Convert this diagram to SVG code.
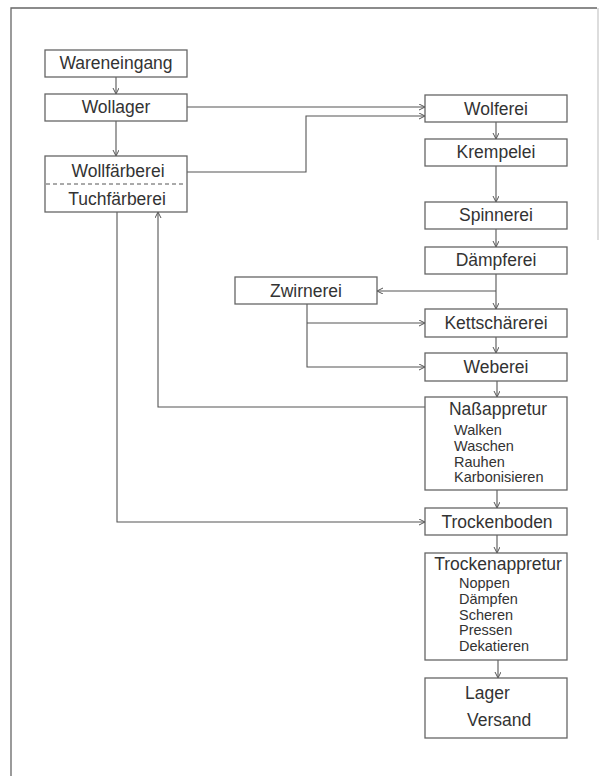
<svg xmlns="http://www.w3.org/2000/svg" width="601" height="776" viewBox="0 0 601 776">
<defs>
<marker id="ah" markerWidth="8" markerHeight="8" refX="6" refY="3" orient="auto" markerUnits="userSpaceOnUse">
<path d="M0,0 L6,3 L0,6" fill="none" stroke="#555" stroke-width="1"/>
</marker>
<style>
.box{fill:#fff;stroke:#666;stroke-width:1.3}
.t{font-family:"Liberation Sans",Arial,sans-serif;font-size:17.5px;fill:#333;text-anchor:middle}
.s{font-family:"Liberation Sans",Arial,sans-serif;font-size:14.5px;fill:#333}
.c{fill:none;stroke:#555;stroke-width:1.1}
.frame{fill:none;stroke:#666;stroke-width:1.3}
</style>
</defs>
<rect width="601" height="776" fill="#fff"/>
<g id="frame">
<path class="frame" d="M11,776 V8 H597"/>
<path d="M598,8 V240" stroke="#bbb" stroke-width="1" fill="none"/>
</g>
<g id="connectors">
<path class="c" d="M116,77 V94" marker-end="url(#ah)"/>
<path class="c" d="M116,121 V156" marker-end="url(#ah)"/>
<path class="c" d="M187,107 H425" marker-end="url(#ah)"/>
<path class="c" d="M187,172 H306 V116 H425" marker-end="url(#ah)"/>
<path class="c" d="M496,122 V139" marker-end="url(#ah)"/>
<path class="c" d="M496,166 V202" marker-end="url(#ah)"/>
<path class="c" d="M496,229 V247" marker-end="url(#ah)"/>
<path class="c" d="M496,274 V309" marker-end="url(#ah)"/>
<path class="c" d="M496,291 H377" marker-end="url(#ah)"/>
<path class="c" d="M307,304 V367 H425" marker-end="url(#ah)"/>
<path class="c" d="M307,323 H425" marker-end="url(#ah)"/>
<path class="c" d="M496,337 V353" marker-end="url(#ah)"/>
<path class="c" d="M497,381 V397" marker-end="url(#ah)"/>
<path class="c" d="M425,407 H158 V212" marker-end="url(#ah)"/>
<path class="c" d="M117,212 V522 H425" marker-end="url(#ah)"/>
<path class="c" d="M497,490 V508" marker-end="url(#ah)"/>
<path class="c" d="M497,535 V553" marker-end="url(#ah)"/>
<path class="c" d="M498,660 V678" marker-end="url(#ah)"/>
</g>
<g id="wareneingang"><rect class="box" x="45" y="50" width="142" height="27"/><text class="t" x="116" y="69">Wareneingang</text></g>
<g id="wollager"><rect class="box" x="45" y="94" width="142" height="27"/><text class="t" x="116" y="113">Wollager</text></g>
<g id="faerberei"><rect class="box" x="45" y="156" width="142" height="56"/>
<path d="M46,184 H186" stroke="#555" stroke-width="1" stroke-dasharray="4,3"/>
<text class="t" x="118" y="177">Wollfärberei</text><text class="t" x="117" y="205">Tuchfärberei</text></g>
<g id="wolferei"><rect class="box" x="425" y="95" width="142" height="27"/><text class="t" x="496" y="115">Wolferei</text></g>
<g id="krempelei"><rect class="box" x="425" y="139" width="142" height="27"/><text class="t" x="496" y="158">Krempelei</text></g>
<g id="spinnerei"><rect class="box" x="425" y="202" width="142" height="27"/><text class="t" x="496" y="221">Spinnerei</text></g>
<g id="daempferei"><rect class="box" x="425" y="247" width="142" height="27"/><text class="t" x="496" y="266">Dämpferei</text></g>
<g id="zwirnerei"><rect class="box" x="235" y="277" width="142" height="27"/><text class="t" x="306" y="297">Zwirnerei</text></g>
<g id="kettschaererei"><rect class="box" x="425" y="309" width="142" height="28"/><text class="t" x="496" y="329">Kettschärerei</text></g>
<g id="weberei"><rect class="box" x="425" y="353" width="142" height="28"/><text class="t" x="496" y="373">Weberei</text></g>
<g id="nassappretur"><rect class="box" x="425" y="397" width="142" height="93"/>
<text class="t" x="498" y="415">Naßappretur</text>
<text class="s" x="454" y="435">Walken</text><text class="s" x="454" y="451">Waschen</text><text class="s" x="454" y="467">Rauhen</text><text class="s" x="454" y="482">Karbonisieren</text></g>
<g id="trockenboden"><rect class="box" x="425" y="508" width="142" height="27"/><text class="t" x="497" y="528">Trockenboden</text></g>
<g id="trockenappretur"><rect class="box" x="425" y="553" width="142" height="107"/>
<text class="t" x="498" y="570">Trockenappretur</text>
<text class="s" x="459" y="588">Noppen</text><text class="s" x="459" y="604">Dämpfen</text><text class="s" x="459" y="620">Scheren</text><text class="s" x="459" y="635">Pressen</text><text class="s" x="459" y="651">Dekatieren</text></g>
<g id="lager"><rect class="box" x="425" y="678" width="142" height="60"/>
<text class="t" x="465" y="699" style="text-anchor:start">Lager</text><text class="t" x="467" y="726" style="text-anchor:start">Versand</text></g>
</svg>
